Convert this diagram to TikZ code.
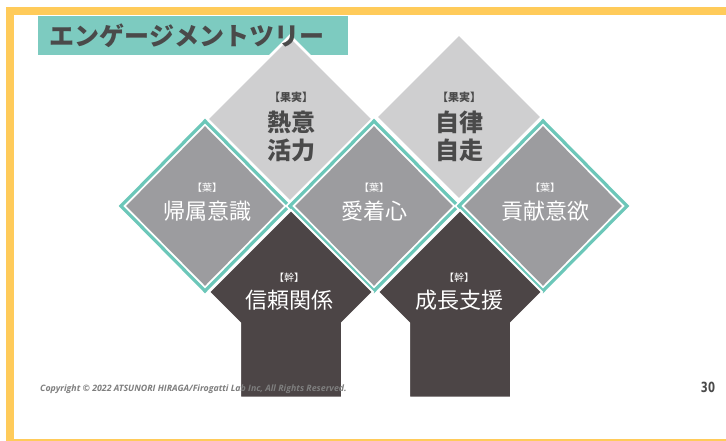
\documentclass[tikz,border=0pt]{standalone}
\usepackage{fontspec}
\newfontfamily\jp{Noto Sans CJK JP}
\newfontfamily\cpy{Open Sans}
\newfontfamily\pgn{DejaVu Sans}
\definecolor{frameY}{HTML}{FFCB5A}
\definecolor{tealT}{HTML}{7DCBC0}
\definecolor{tealB}{HTML}{6CC7B9}
\definecolor{lightG}{HTML}{CFCFD0}
\definecolor{midG}{HTML}{9C9C9F}
\definecolor{darkG}{HTML}{4C4546}
\definecolor{txtD}{HTML}{4A4A4A}
\definecolor{cpyG}{HTML}{7E7E7E}
\tikzset{
  topd/.style={fill=lightG, draw=white, line width=2.5pt, line join=miter},
  midd/.style={fill=midG},
  midline/.style={draw=white, line width=7pt, line join=miter},
  midteal/.style={draw=tealB, line width=3.2pt, line join=miter},
  trunk/.style={fill=darkG, draw=white, line width=2pt, line join=miter},
  toptag/.style={font=\jp\fontsize{11}{12}\selectfont\bfseries, text=txtD, inner sep=0pt},
  toptxt/.style={font=\jp\fontsize{24}{26}\selectfont\bfseries, text=txtD, inner sep=0pt},
  wtag/.style={font=\jp\fontsize{10}{11}\selectfont, text=white, inner sep=0pt},
  wtxt/.style={font=\jp\fontsize{22}{24}\selectfont, text=white, inner sep=0pt},
}
\begin{document}
\begin{tikzpicture}[x=1pt,y=-1pt]
\useasboundingbox (0,0) rectangle (726,441);
\fill[white] (0,0) rectangle (726,441);
% frame
\fill[frameY] (6,7) rectangle (726,15);
\fill[frameY] (6,7) rectangle (14,441);
\fill[frameY] (6,438.5) rectangle (726,441);
% title box
\fill[tealT] (38,16) rectangle (348,55);
% top diamonds
\path[topd] (290,36) -- (373,119) -- (290,202) -- (207,119) -- cycle;
\path[topd] (459,34) -- (542,117) -- (459,200) -- (376,117) -- cycle;
% middle diamonds
\foreach \cx in {205,374,543}{
  \path[midd] (\cx,121) -- ++(84,85) -- ++(-84,85) -- ++(-84,-85) -- cycle;
  \path[midline] (\cx,121) -- ++(84,85) -- ++(-84,85) -- ++(-84,-85) -- cycle;
  \path[midteal] (\cx,121) -- ++(84,85) -- ++(-84,85) -- ++(-84,-85) -- cycle;
}
% trunks
\path[trunk] (291,210) -- (373,292) -- (342,323) -- (342,397.5) -- (240,397.5) -- (240,323) -- (209,292) -- cycle;
\path[trunk] (460,210) -- (542,292) -- (511,323) -- (511,397.5) -- (409,397.5) -- (409,323) -- (378,292) -- cycle;
% title
\node[font=\jp\fontsize{25}{27}\selectfont\bfseries, text=txtD, inner sep=0pt] (title) at (187,36) {エンゲージメントツリー};
% top texts
\node[toptag] (f1tag) at (291,97) {【果実】};
\node[toptxt] (f1a) at (291,122) {熱意};
\node[toptxt] (f1b) at (291,150) {活力};
\node[toptag] (f2tag) at (459,97) {【果実】};
\node[toptxt] (f2a) at (459,122) {自律};
\node[toptxt] (f2b) at (459,150) {自走};
% middle texts
\node[wtag] (l1tag) at (207,188) {【葉】};
\node[wtxt] (l1) at (207,211) {帰属意識};
\node[wtag] (l2tag) at (374,188) {【葉】};
\node[wtxt] (l2) at (374,211) {愛着心};
\node[wtag] (l3tag) at (545,188) {【葉】};
\node[wtxt] (l3) at (545,211) {貢献意欲};
% trunk texts
\node[wtag] (k1tag) at (289,278) {【幹】};
\node[wtxt] (k1) at (289,300) {信頼関係};
\node[wtag] (k2tag) at (459,278) {【幹】};
\node[wtxt] (k2) at (459,300) {成長支援};
% footer
\node[font=\cpy\bfseries\itshape\fontsize{8.8}{10}\selectfont, text=cpyG, inner sep=0pt, anchor=west] (copy) at (40,389) {Copyright © 2022 ATSUNORI HIRAGA/Firogatti Lab Inc, All Rights Reserved.};
\node[font=\pgn\bfseries\fontsize{14}{15}\selectfont, text=txtD, inner sep=0pt, xscale=0.72] (pnum) at (708,387) {30};
\end{tikzpicture}
\end{document}
